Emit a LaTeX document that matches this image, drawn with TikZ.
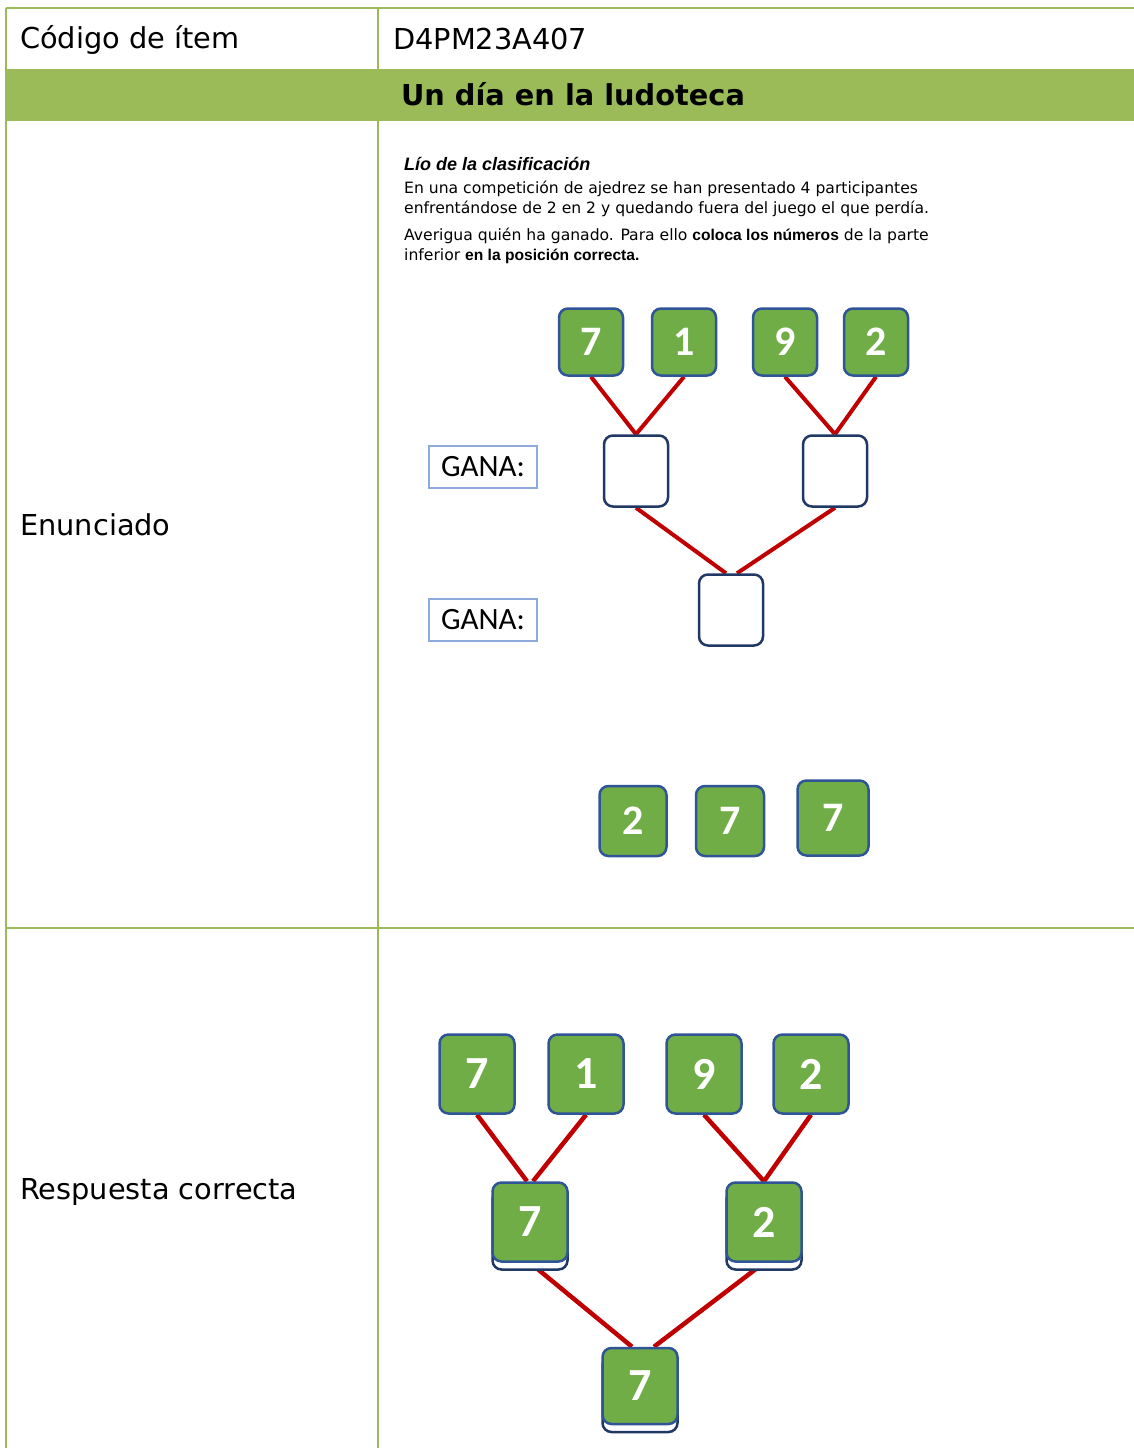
\documentclass[tikz,border=0pt]{standalone}
\usepackage{fontspec}
\setmainfont{DejaVu Sans}
\newfontfamily\calfont{Carlito}
\newfontfamily\arfont{Liberation Sans}
\usetikzlibrary{shadows,backgrounds}
\definecolor{tblgreen}{HTML}{9BBB59}
\definecolor{tilegreen}{HTML}{70AD47}
\definecolor{tileblue}{HTML}{2F5597}
\definecolor{slotnavy}{HTML}{203864}
\definecolor{ganablue}{HTML}{8FAADC}
\definecolor{wirered}{HTML}{C00000}
\tikzset{
  gridline/.style={draw=tblgreen, line width=2pt},
  celltext/.style={anchor=west, inner sep=0pt, font=\fontsize{28.8}{32}\selectfont},
  wire/.style={draw=wirered, line width=4pt},
}

\begin{document}
\begin{tikzpicture}[
  x=1pt, y=-1pt,
  tile/.style={rounded corners=9pt, fill=tilegreen, draw=tileblue, line width=2.5pt, text=white,
    inner sep=0pt, minimum width=64pt, minimum height=67pt, font=\calfont\bfseries\fontsize{42}{42}\selectfont},
  bigtile/.style={tile, minimum width=75pt, minimum height=79pt, font=\calfont\bfseries\fontsize{46}{46}\selectfont},
  slot/.style={rounded corners=9pt, fill=white, draw=slotnavy, line width=2.5pt, minimum width=64pt, minimum height=71pt},
  stacked/.style={general shadow={fill=white, draw=slotnavy, line width=2.5pt, shadow yshift=-8pt}},
  gana/.style={draw=ganablue, line width=1.5pt, minimum width=108pt, minimum height=42pt, inner sep=0pt,
    font=\calfont\fontsize{31}{31}\selectfont},
]
  \useasboundingbox (0,0) rectangle (1134,1448);

  % table
  \fill[tblgreen] (6,70) rectangle (1134,121);
  \draw[gridline] (6,8) -- (1134,8);
  \draw[gridline] (6,8) -- (6,1448);
  \draw[gridline] (378,8) -- (378,70);
  \draw[gridline] (378,121) -- (378,1448);
  \draw[gridline] (6,70) -- (1134,70);
  \draw[gridline] (6,928) -- (1134,928);

  \node[celltext] (code)    at (20,40)   {Código de ítem};
  \node[celltext] (codeval) at (393,39)  {D4PM23A407};
  \node[font=\bfseries\fontsize{28.8}{32}\selectfont] (title) at (573,94) {Un día en la ludoteca};
  \node[celltext] (enun)    at (20,525)  {Enunciado};
  \node[celltext] (resp)    at (20,1192) {Respuesta correcta};

  \node[anchor=north west, inner sep=0pt, align=left, font=\fontsize{15.6}{20}\selectfont] (task) at (404,157)
    {{\arfont\bfseries\itshape\fontsize{18}{20}\selectfont Lío de la clasificación}\\[3pt]
     En una competición de ajedrez se han presentado 4 participantes\\
     enfrentándose de 2 en 2 y quedando fuera del juego el que perdía.\\[7pt]
     Averigua quién ha ganado. Para ello {\arfont\bfseries coloca los números} de la parte\\
     inferior {\arfont\bfseries en la posición correcta.}};

  % statement bracket
  \node[tile] (p7) at (591,342) {7};
  \node[tile] (p1) at (684,342) {1};
  \node[tile] (p9) at (785,342) {9};
  \node[tile] (p2) at (876,342) {2};
  \node[slot] (w1) at (636,471) {};
  \node[slot] (w2) at (835,471) {};
  \node[slot] (wf) at (731,610) {};
  \node[gana] (g1) at (483,467) {GANA:};
  \node[gana] (g2) at (483,620) {GANA:};

  \node[tile, minimum width=67pt, minimum height=70pt] (s2)  at (633,821) {2};
  \node[tile, minimum width=68pt, minimum height=70pt] (s7a) at (730,821) {7};
  \node[tile, minimum width=71pt, minimum height=75pt] (s7b) at (833,818) {7};

  % answer bracket
  \node[bigtile] (r7) at (477,1074) {7};
  \node[bigtile] (r1) at (586,1074) {1};
  \node[bigtile] (r9) at (704,1074) {9};
  \node[bigtile] (r2) at (811,1074) {2};
  \node[bigtile, stacked] (rw1) at (530,1222) {7};
  \node[bigtile, stacked] (rw2) at (764,1222) {2};
  \node[bigtile, stacked, minimum height=76pt] (rwf) at (640,1386) {7};

  \begin{scope}[on background layer]
    \draw[wire] (p7.south) -- (w1.north);
    \draw[wire] (p1.south) -- (w1.north);
    \draw[wire] (p9.south) -- (w2.north);
    \draw[wire] (p2.south) -- (w2.north);
    \draw[wire] (w1.south) -- ([xshift=-5pt]wf.north);
    \draw[wire] (w2.south) -- ([xshift=6pt]wf.north);

    \draw[wire, line width=4.5pt] (r7.south) -- ([xshift=-3pt]rw1.north);
    \draw[wire, line width=4.5pt] (r1.south) -- ([xshift=3pt]rw1.north);
    \draw[wire, line width=4.5pt] (r9.south) -- (rw2.north);
    \draw[wire, line width=4.5pt] (r2.south) -- (rw2.north);
    \draw[wire, line width=4.5pt] (rw1.south) -- ([xshift=-8pt]rwf.north);
    \draw[wire, line width=4.5pt] (rw2.south) -- ([xshift=14pt]rwf.north);
  \end{scope}
\end{tikzpicture}
\end{document}
